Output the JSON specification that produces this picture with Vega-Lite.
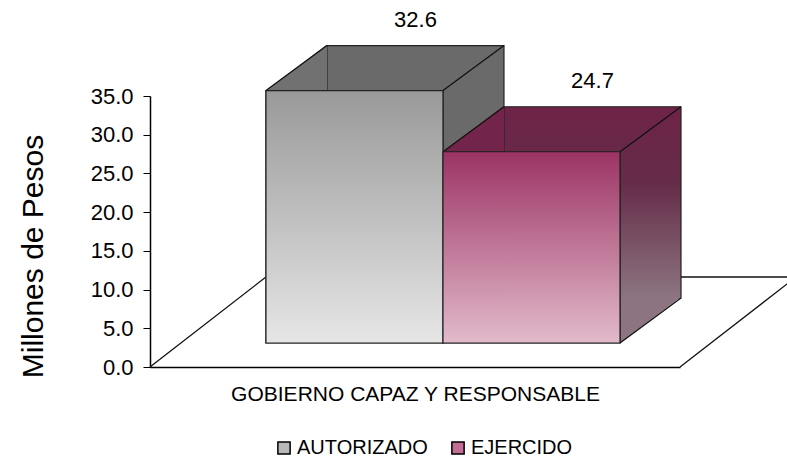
{
  "$schema": "https://vega.github.io/schema/vega-lite/v6.json",
  "width": 530,
  "height": 271,
  "autosize": {"type": "none"},
  "padding": {"left": 150, "top": 96, "right": 107, "bottom": 92},
  "background": "white",
  "config": {
    "font": "Liberation Sans",
    "view": {"stroke": null},
    "axis": {"domainColor": "black", "tickColor": "black", "labelColor": "black", "titleColor": "black", "grid": false}
  },
  "data": {
    "values": [
      {"programa": "GOBIERNO CAPAZ Y RESPONSABLE", "tipo": "AUTORIZADO", "monto": 32.6},
      {"programa": "GOBIERNO CAPAZ Y RESPONSABLE", "tipo": "EJERCIDO", "monto": 24.7}
    ]
  },
  "encoding": {
    "x": {
      "field": "tipo",
      "type": "nominal",
      "scale": {"domain": ["AUTORIZADO", "EJERCIDO"], "paddingInner": 0, "paddingOuter": 0.497, "align": 0.659},
      "axis": {"title": "GOBIERNO CAPAZ Y RESPONSABLE", "titleFontSize": 21, "titleFontWeight": "normal", "titlePadding": 16, "labels": false, "ticks": false, "domainWidth": 1.5}
    },
    "y": {
      "field": "monto",
      "type": "quantitative",
      "scale": {"domain": [0, 35]},
      "axis": {
        "values": [0, 5, 10, 15, 20, 25, 30, 35],
        "format": ".1f",
        "tickSize": 7,
        "labelFontSize": 22,
        "labelPadding": 10,
        "title": "Millones de Pesos",
        "titleFontSize": 30,
        "titleFontWeight": "normal",
        "titlePadding": 42,
        "titleY": 160,
        "domainWidth": 1.5
      }
    }
  },
  "layer": [
    {
      "transform": [{"filter": "datum.tipo === 'AUTORIZADO'"}],
      "mark": {"type": "rule", "color": "#111111", "strokeWidth": 1.3, "xOffset": -116, "x2Offset": 0, "y2Offset": -90},
      "encoding": {
        "x": {"field": "tipo", "type": "nominal", "bandPosition": 0},
        "x2": {"field": "tipo", "bandPosition": 0},
        "y": {"datum": 0},
        "y2": {"datum": 0}
      }
    },
    {
      "transform": [{"filter": "datum.tipo === 'AUTORIZADO'"}],
      "mark": {"type": "rule", "color": "#111111", "strokeWidth": 1.3, "yOffset": -90, "y2Offset": -90, "x2Offset": 500},
      "encoding": {
        "x": {"field": "tipo", "type": "nominal", "bandPosition": 0},
        "x2": {"field": "tipo", "bandPosition": 1},
        "y": {"datum": 0},
        "y2": {"datum": 0}
      }
    },
    {
      "transform": [{"filter": "datum.tipo === 'EJERCIDO'"}],
      "mark": {"type": "rule", "color": "#111111", "strokeWidth": 1.3, "xOffset": 60, "x2Offset": 176, "y2Offset": -90},
      "encoding": {
        "x": {"field": "tipo", "type": "nominal", "bandPosition": 1},
        "x2": {"field": "tipo", "bandPosition": 1},
        "y": {"datum": 0},
        "y2": {"datum": 0}
      }
    },
    {
      "transform": [{"filter": "datum.tipo === 'AUTORIZADO'"}],
      "mark": {"type": "bar", "stroke": "#222222", "strokeWidth": 1.2, "fill": "#6a6a6a", "xOffset": 61, "yOffset": -69}
    },
    {
      "transform": [{"filter": "datum.tipo === 'EJERCIDO'"}],
      "mark": {
        "type": "bar",
        "stroke": "#222222",
        "strokeWidth": 1.2,
        "xOffset": 61,
        "yOffset": -69,
        "fill": {"gradient": "linear", "x1": 0, "y1": 0, "x2": 0, "y2": 1, "stops": [{"offset": 0, "color": "#6e2347"}, {"offset": 0.4, "color": "#652c48"}, {"offset": 1, "color": "#8c7581"}]}
      }
    },
    {
      "mark": {"type": "point", "shape": "M0,0L1,-0.754L1,0Z", "size": 14884, "filled": true, "opacity": 1, "strokeWidth": 0, "yOffset": -24},
      "encoding": {
        "x": {"field": "tipo", "type": "nominal", "bandPosition": 0},
        "fill": {"condition": {"test": "datum.tipo === 'AUTORIZADO'", "value": "#717171"}, "value": "#72244a"}
      }
    },
    {
      "transform": [{"filter": "datum.tipo === 'EJERCIDO'"}],
      "mark": {"type": "point", "shape": "M0,0L0,-0.754L1,-0.754Z", "size": 14884, "filled": true, "opacity": 1, "strokeWidth": 0, "fill": "#8c7581", "yOffset": -24},
      "encoding": {
        "x": {"field": "tipo", "type": "nominal", "bandPosition": 1},
        "y": {"datum": 0}
      }
    },
    {
      "mark": {"type": "rule", "color": "#111111", "strokeWidth": 1.3, "yOffset": -24, "x2Offset": 61, "y2Offset": -69},
      "encoding": {
        "x": {"field": "tipo", "type": "nominal", "bandPosition": 0},
        "x2": {"field": "tipo", "bandPosition": 0},
        "y2": {"field": "monto"}
      }
    },
    {
      "mark": {"type": "rule", "color": "#111111", "strokeWidth": 1.3, "yOffset": -24, "x2Offset": 61, "y2Offset": -69},
      "encoding": {
        "x": {"field": "tipo", "type": "nominal", "bandPosition": 1},
        "x2": {"field": "tipo", "bandPosition": 1},
        "y2": {"field": "monto"}
      }
    },
    {
      "mark": {"type": "rule", "color": "#111111", "strokeWidth": 1.3, "yOffset": -24, "x2Offset": 61, "y2Offset": -69},
      "encoding": {
        "x": {"field": "tipo", "type": "nominal", "bandPosition": 1},
        "x2": {"field": "tipo", "bandPosition": 1},
        "y": {"datum": 0},
        "y2": {"datum": 0}
      }
    },
    {
      "mark": {"type": "bar", "stroke": "#222222", "strokeWidth": 1.2, "yOffset": -24},
      "encoding": {
        "color": {
          "field": "tipo",
          "type": "nominal",
          "scale": {"domain": ["AUTORIZADO", "EJERCIDO"], "range": ["#b8b8b8", "#c06e94"]},
          "legend": {
            "title": null,
            "orient": "none",
            "legendX": 124,
            "legendY": 342,
            "direction": "horizontal",
            "symbolType": "square",
            "symbolSize": 150,
            "symbolStrokeColor": "black",
            "symbolStrokeWidth": 1.5,
            "labelFontSize": 20,
            "labelColor": "black",
            "labelOffset": 3,
            "columnPadding": 20
          }
        }
      }
    },
    {
      "transform": [{"filter": "datum.tipo === 'AUTORIZADO'"}],
      "mark": {
        "type": "bar",
        "stroke": "#222222",
        "strokeWidth": 1.2,
        "yOffset": -24,
        "fill": {"gradient": "linear", "x1": 0, "y1": 0, "x2": 0, "y2": 1, "stops": [{"offset": 0, "color": "#999999"}, {"offset": 1, "color": "#e6e6e6"}]}
      }
    },
    {
      "transform": [{"filter": "datum.tipo === 'EJERCIDO'"}],
      "mark": {
        "type": "bar",
        "stroke": "#222222",
        "strokeWidth": 1.2,
        "yOffset": -24,
        "fill": {"gradient": "linear", "x1": 0, "y1": 0, "x2": 0, "y2": 1, "stops": [{"offset": 0, "color": "#9c3464"}, {"offset": 1, "color": "#e2bacb"}]}
      }
    },
    {
      "mark": {"type": "text", "dy": -14, "xOffset": 61, "yOffset": -69, "fontSize": 22, "color": "black", "baseline": "bottom"},
      "encoding": {
        "text": {"field": "monto", "type": "quantitative", "format": ".1f"}
      }
    }
  ]
}
